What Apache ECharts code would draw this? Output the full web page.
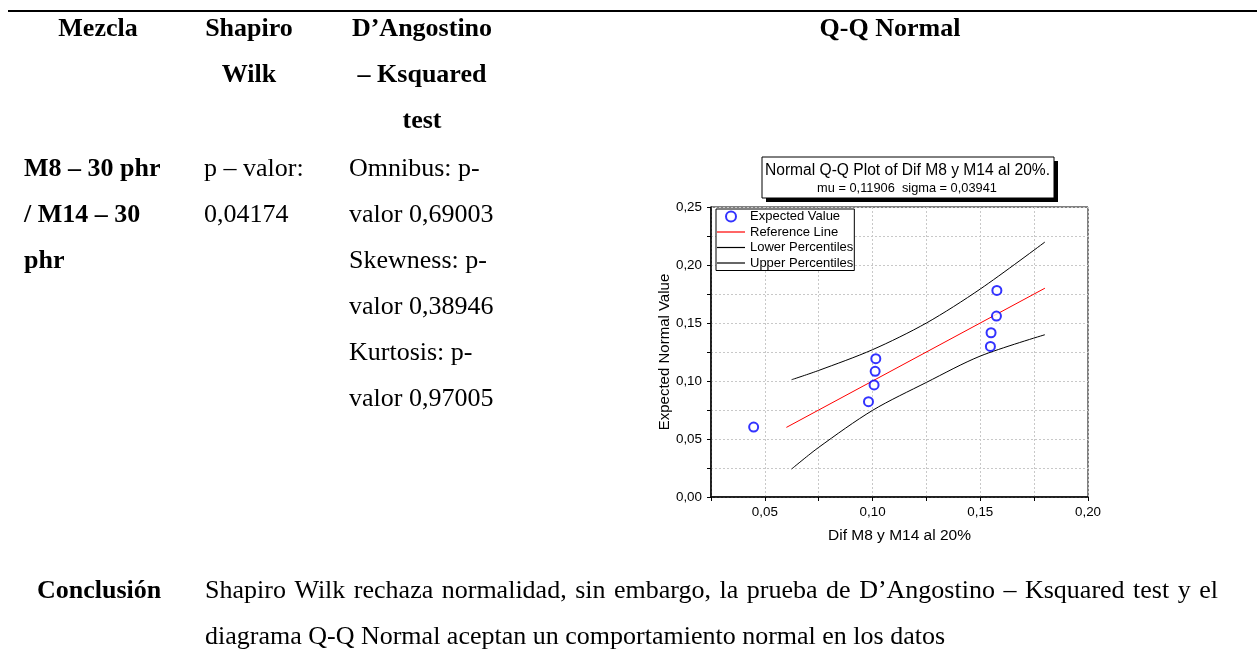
<!DOCTYPE html>
<html>
<head>
<meta charset="utf-8">
<script src="https://cdn.jsdelivr.net/npm/echarts@6/dist/echarts.min.js"></script>
<style>
html,body{margin:0;padding:0;background:#fff;}
#c{width:1257px;height:659px;}
</style>
</head>
<body>
<div id="c"></div>
<script>
// ---- data ----
const observedX = [0.0448, 0.0981, 0.1007, 0.1012, 0.1015, 0.1547, 0.1550, 0.1575, 0.1577];
const expectedY = [0.0603, 0.0822, 0.0966, 0.1083, 0.1192, 0.1298, 0.1416, 0.1560, 0.1781];
const refX = [0.06, 0.18];
const refY = [0.06, 0.18];
const lowerX = [0.0624, 0.075, 0.10, 0.125, 0.15, 0.18];
const lowerY = [0.0241, 0.0428, 0.0747, 0.0988, 0.1215, 0.1399];
const upperX = [0.0624, 0.075, 0.10, 0.125, 0.15, 0.18];
const upperY = [0.1011, 0.1091, 0.1270, 0.1500, 0.1793, 0.2198];
const seriesNames = ['Expected Value', 'Reference Line', 'Lower Percentiles', 'Upper Percentiles'];
const xTickLabels = ['0,05', '0,10', '0,15', '0,20'];
const yTickLabels = ['0,00', '0,05', '0,10', '0,15', '0,20', '0,25'];
const chartTitle = 'Normal Q-Q Plot of Dif M8 y M14 al 20%.';
const chartSubtitle = 'mu = 0,11906  sigma = 0,03941';
const xName = 'Dif M8 y M14 al 20%';
const yName = 'Expected Normal Value';
const conclusionLine1 = 'Shapiro Wilk rechaza normalidad, sin embargo, la prueba de D\u2019Angostino \u2013 Ksquared test y el';
const conclusionLine2 = 'diagrama Q-Q Normal aceptan un comportamiento normal en los datos';

const zip = (a, b) => a.map((v, i) => [v, b[i]]);
const fmt = v => v.toFixed(2).replace('.', ',');
const serif = 'Liberation Serif';
const sans = 'Liberation Sans';
const FS = 26;

function fontStr(size, bold, family) {
  return (bold ? 'bold ' : '') + size + 'px "' + (family || serif) + '"';
}
function txt(x, y, s, opt) {
  opt = opt || {};
  return {
    type: 'text', x: x, y: y, z: 10,
    style: {
      text: s, fill: '#000',
      font: fontStr(opt.size || FS, opt.bold, opt.family),
      textAlign: opt.align || 'left', textVerticalAlign: 'middle'
    }
  };
}
// justified line: spread words between x0 and x1
function justified(x0, x1, y, s) {
  const ctx = document.createElement('canvas').getContext('2d');
  ctx.font = fontStr(FS, false, serif);
  const words = s.split(' ');
  const widths = words.map(w => ctx.measureText(w).width);
  const total = widths.reduce((a, b) => a + b, 0);
  const gap = (x1 - x0 - total) / (words.length - 1);
  const out = [];
  let x = x0;
  words.forEach((w, i) => { out.push(txt(x, y, w)); x += widths[i] + gap; });
  return out;
}

const graphics = [
  { type: 'line', shape: { x1: 8, y1: 11, x2: 1257, y2: 11 }, style: { stroke: '#000', lineWidth: 2 } },
  txt(98, 29, 'Mezcla', { bold: true, align: 'center' }),
  txt(249, 29, 'Shapiro', { bold: true, align: 'center' }),
  txt(249, 75, 'Wilk', { bold: true, align: 'center' }),
  txt(422, 29, 'D\u2019Angostino', { bold: true, align: 'center' }),
  txt(422, 75, '\u2013 Ksquared', { bold: true, align: 'center' }),
  txt(422, 121, 'test', { bold: true, align: 'center' }),
  txt(890, 29, 'Q-Q Normal', { bold: true, align: 'center' }),
  txt(24, 169, 'M8 \u2013 30 phr', { bold: true }),
  txt(24, 215, '/ M14 \u2013 30', { bold: true }),
  txt(24, 261, 'phr', { bold: true }),
  txt(204, 169, 'p \u2013 valor:'),
  txt(204, 215, '0,04174'),
  txt(349, 169, 'Omnibus: p-'),
  txt(349, 215, 'valor 0,69003'),
  txt(349, 261, 'Skewness: p-'),
  txt(349, 307, 'valor 0,38946'),
  txt(349, 353, 'Kurtosis: p-'),
  txt(349, 399, 'valor 0,97005'),
  txt(37, 591, 'Conclusi\u00f3n', { bold: true }),
  ...justified(205, 1218, 591, conclusionLine1),
  txt(205, 637, conclusionLine2),
  // title box with shadow
  { type: 'rect', z: 8, shape: { x: 766, y: 161, width: 292, height: 41 }, style: { fill: '#000' } },
  { type: 'rect', z: 9, shape: { x: 762, y: 157, width: 292, height: 41 }, style: { fill: '#fff', stroke: '#000', lineWidth: 1 } },
  txt(907.5, 171, chartTitle, { size: 15.6, family: sans, align: 'center' }),
  txt(907, 188.5, chartSubtitle, { size: 12.8, family: sans, align: 'center' })
];

const linePath = 'path://M0,0H28V1.2H0Z';

const chart = echarts.init(document.getElementById('c'), null, { renderer: 'canvas' });
chart.setOption({
  animation: false,
  backgroundColor: '#fff',
  textStyle: { fontFamily: sans },
  grid: { left: 711, top: 207, width: 377, height: 290, show: true, borderColor: '#000', borderWidth: 1, backgroundColor: 'transparent' },
  legend: {
    orient: 'vertical', left: 716, top: 209,
    itemWidth: 28, itemHeight: 10, itemGap: 2.5,
    padding: [1, 1, 1, 1],
    borderColor: '#000', borderWidth: 1, backgroundColor: '#fff',
    textStyle: { fontSize: 13, color: '#000', fontFamily: sans },
    data: [
      { name: seriesNames[0], icon: 'emptyCircle' },
      { name: seriesNames[1], icon: linePath },
      { name: seriesNames[2], icon: linePath },
      { name: seriesNames[3], icon: linePath }
    ]
  },
  xAxis: {
    type: 'value', min: 0.025, max: 0.2, interval: 0.025,
    name: xName, nameLocation: 'middle', nameGap: 31,
    nameTextStyle: { fontSize: 15.5, color: '#000', fontFamily: sans },
    axisLine: { lineStyle: { color: '#000', width: 1.5 } },
    axisTick: { show: true, length: 4, lineStyle: { color: '#000' } },
    axisLabel: {
      margin: 9, fontSize: 13.4, color: '#000', fontFamily: sans,
      formatter: v => { const i = xTickLabels.indexOf(fmt(v)); return (Math.round(v * 1000) % 50 === 0 && i >= 0) ? xTickLabels[i] : ''; }
    },
    splitLine: { show: true, lineStyle: { color: '#c8c8c8', type: [2, 2], width: 1 } }
  },
  yAxis: {
    type: 'value', min: 0, max: 0.25, interval: 0.025,
    name: yName, nameLocation: 'middle', nameGap: 38,
    nameTextStyle: { fontSize: 15, color: '#000', fontFamily: sans },
    axisLine: { show: true, lineStyle: { color: '#000', width: 1.5 } },
    axisTick: { show: true, length: 4, lineStyle: { color: '#000' } },
    axisLabel: {
      margin: 9, fontSize: 13.4, color: '#000', fontFamily: sans,
      formatter: v => { const i = yTickLabels.indexOf(fmt(v)); return (Math.round(v * 1000) % 50 === 0 && i >= 0) ? yTickLabels[i] : ''; }
    },
    splitLine: { show: true, lineStyle: { color: '#c8c8c8', type: [2, 2], width: 1 } }
  },
  series: [
    {
      name: seriesNames[0], type: 'scatter', data: zip(observedX, expectedY),
      symbol: 'emptyCircle', symbolSize: 9,
      itemStyle: { color: '#0000ff', borderColor: '#0000ff', borderWidth: 1.3 }, z: 5
    },
    {
      name: seriesNames[1], type: 'line', data: zip(refX, refY), symbol: 'none',
      lineStyle: { color: '#ff0000', width: 1 }, itemStyle: { color: '#ff0000' }
    },
    {
      name: seriesNames[2], type: 'line', data: zip(lowerX, lowerY), symbol: 'none', smooth: 0.3,
      lineStyle: { color: '#000', width: 1 }, itemStyle: { color: '#000' }
    },
    {
      name: seriesNames[3], type: 'line', data: zip(upperX, upperY), symbol: 'none', smooth: 0.3,
      lineStyle: { color: '#000', width: 1 }, itemStyle: { color: '#000' }
    }
  ],
  graphic: graphics
});
</script>
</body>
</html>
